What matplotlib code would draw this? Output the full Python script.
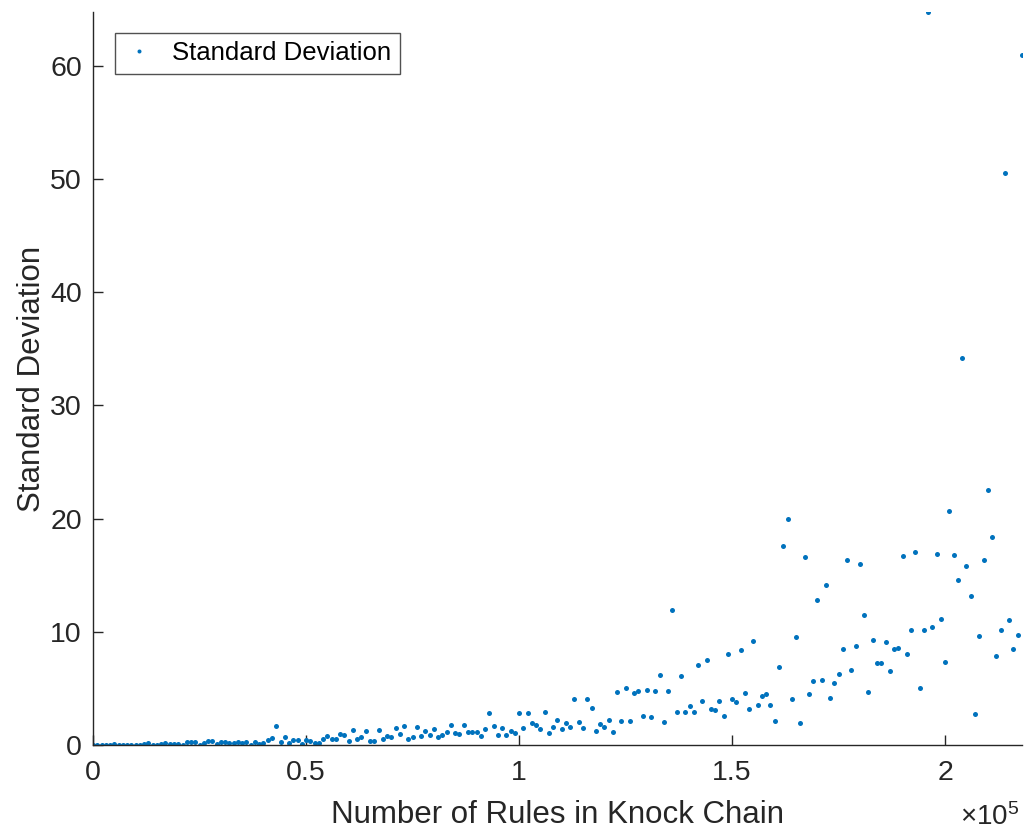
"""
plot.py
-------
Scatter of the standard deviation measured for each knock-chain length.
Saves the figure to out.png.
"""

import matplotlib
matplotlib.use("Agg")
import matplotlib.pyplot as plt
from matplotlib.ticker import FuncFormatter

plt.rcParams["font.family"] = ["Liberation Sans", "DejaVu Sans"]
plt.rcParams["mathtext.fontset"] = "custom"
plt.rcParams["mathtext.rm"] = "Liberation Sans"
plt.rcParams["mathtext.it"] = "Liberation Sans"

# one sample every 1000 rules, 0 .. 218000
STEP = 1000
std_dev = [
    # 0 - 49k
    0.00, 0.00, 0.00, 0.03, 0.03, 0.06, 0.03, 0.03, 0.03, 0.03,
    0.00, 0.00, 0.06, 0.15, 0.00, 0.03, 0.09, 0.15, 0.12, 0.09,
    0.09, 0.03, 0.27, 0.27, 0.24, 0.02, 0.15, 0.35, 0.38, 0.09,
    0.30, 0.27, 0.21, 0.21, 0.24, 0.21, 0.30, 0.02, 0.27, 0.05,
    0.15, 0.41, 0.59, 1.71, 0.27, 0.71, 0.15, 0.41, 0.44, 0.09,
    # 50k - 99k
    0.44, 0.38, 0.18, 0.18, 0.50, 0.77, 0.53, 0.53, 1.00, 0.88,
    0.35, 1.30, 0.50, 0.71, 1.27, 0.35, 0.35, 1.33, 0.53, 0.77,
    0.71, 1.50, 0.94, 1.68, 0.53, 0.71, 1.56, 0.80, 1.24, 0.86,
    1.42, 0.74, 0.86, 1.15, 1.80, 1.03, 0.97, 1.80, 1.15, 1.12,
    1.15, 0.83, 1.45, 2.80, 1.65, 0.86, 1.47, 0.86, 1.27, 1.09,
    # 100k - 149k
    2.86, 1.53, 2.86, 1.92, 1.77, 1.42, 2.95, 1.06, 1.62, 2.24,
    1.39, 1.95, 1.62, 4.10, 2.06, 1.50, 4.10, 3.30, 1.27, 1.83,
    1.62, 2.18, 1.15, 4.69, 2.15, 5.04, 2.15, 4.60, 4.80, 2.57,
    4.87, 2.45, 4.78, 6.22, 2.04, 4.78, 11.95, 2.92, 6.14, 2.92,
    3.48, 2.89, 7.08, 3.89, 7.49, 3.16, 3.10, 3.92, 2.57, 8.02,
    # 150k - 199k
    4.07, 3.80, 8.35, 4.60, 3.16, 9.20, 3.57, 4.30, 4.54, 3.54,
    2.09, 6.87, 17.60, 20.00, 4.04, 9.53, 1.95, 16.60, 4.51, 5.69,
    12.80, 5.78, 14.10, 4.13, 5.49, 6.28, 8.44, 16.30, 6.64, 8.76,
    15.96, 11.50, 4.66, 9.32, 7.23, 7.23, 9.14, 6.52, 8.44, 8.53,
    16.70, 8.02, 10.18, 17.08, 5.07, 10.15, 64.75, 10.40, 16.87, 11.10,
    # 200k - 218k
    7.37, 20.70, 16.80, 14.60, 34.20, 15.84, 13.20, 2.71, 9.65, 16.30,
    22.50, 18.40, 7.82, 10.18, 50.56, 11.06, 8.50, 9.73, 60.95,
]
n_rules = [i * STEP for i in range(len(std_dev))]

X_TICKS = [0, 50000, 100000, 150000, 200000]
Y_TICKS = [0, 10, 20, 30, 40, 50, 60]

BLUE = "#0072BD"
DARK = "#262626"

fig = plt.figure(figsize=(10.27, 8.34), dpi=100)
ax = fig.add_axes([0.0906, 0.1067, 0.9044, 0.8789])

ax.plot(n_rules, std_dev, linestyle="none", marker="o", markersize=3.6,
        markeredgewidth=0, color=BLUE, label="Standard Deviation")

ax.set_xlim(0, max(n_rules))
ax.set_ylim(0, max(std_dev))
ax.set_xticks(X_TICKS)
ax.set_yticks(Y_TICKS)
ax.xaxis.set_major_formatter(FuncFormatter(lambda v, _: f"{v / 1e5:g}"))

for side in ("top", "right"):
    ax.spines[side].set_visible(False)
for side in ("left", "bottom"):
    ax.spines[side].set_color(DARK)
    ax.spines[side].set_linewidth(1.0)

ax.tick_params(direction="in", length=7, width=1.0, color=DARK,
               labelcolor=DARK, labelsize=20.5)
ax.tick_params(axis="x", pad=11)
ax.tick_params(axis="y", pad=8)

ax.set_xlabel("Number of Rules in Knock Chain", fontsize=22.5, color=DARK)
ax.set_ylabel("Standard Deviation", fontsize=22.5, color=DARK)
ax.xaxis.label.set_va("center")
ax.yaxis.label.set_va("center")
ax.xaxis.set_label_coords(0.5, -0.095)
ax.yaxis.set_label_coords(-0.0655, 0.5)

# exponent for the x tick labels
ax.text(0.997, -0.099, r"$\times10^{5}$", transform=ax.transAxes,
        ha="right", va="center", fontsize=20, color=DARK)

leg = ax.legend(loc="upper left", bbox_to_anchor=(0.0237, 0.9714),
                borderaxespad=0, fontsize=18.5, frameon=True, fancybox=False,
                borderpad=0.33, handlelength=1.2, handletextpad=0.7,
                markerscale=0.8)
leg.get_frame().set_edgecolor(DARK)
leg.get_frame().set_linewidth(1.0)

fig.savefig("out.png", dpi=100)
